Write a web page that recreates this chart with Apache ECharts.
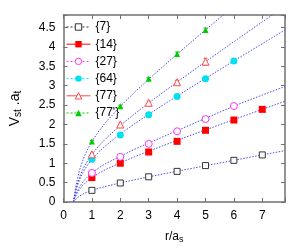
<!DOCTYPE html>
<html><head><meta charset="utf-8">
<script src="https://cdn.jsdelivr.net/npm/echarts@6/dist/echarts.min.js"></script>
<style>html,body{margin:0;padding:0;background:#fff}#c{width:305px;height:249px}</style>
</head><body><div id="c"></div>
<script>
// Measured points (r/a_s, V_st*a_t)
var R = [1, 2, 3, 4, 5, 6, 7];
var V7 = [0.30, 0.49, 0.65, 0.79, 0.94, 1.075, 1.215];
var V14 = [0.63, 1.0, 1.29, 1.565, 1.85, 2.115, 2.39];
var V27 = [0.75, 1.165, 1.5, 1.825, 2.14, 2.475];
var V64 = [1.10, 1.73, 2.25, 2.725, 3.18, 3.64];
var V77 = [1.23, 2.0, 2.56, 3.09, 3.62];
var V77P = [1.56, 2.47, 3.18, 3.82, 4.44];
var E77 = [0.03, 0.03, 0.04, 0.05, 0.09];
var E77P = [0.03, 0.03, 0.03, 0.05, 0.05];
// Fit curves
var CURVE_R = [0.35, 0.4, 0.45, 0.5, 0.55, 0.6, 0.675, 0.75, 0.875, 1, 1.25, 1.5, 2, 2.5, 3, 4, 5, 6, 7, 7.8];
var FIT_7 = [0, 0.047, 0.086, 0.118, 0.146, 0.170, 0.201, 0.228, 0.267, 0.30, 0.357, 0.406, 0.493, 0.573, 0.648, 0.794, 0.936, 1.076, 1.215, 1.326];
var FIT_14 = [0, 0.102, 0.184, 0.252, 0.310, 0.361, 0.426, 0.482, 0.562, 0.63, 0.744, 0.842, 1.012, 1.166, 1.311, 1.59, 1.86, 2.126, 2.39, 2.60];
var FIT_27 = [0, 0.122, 0.220, 0.302, 0.371, 0.432, 0.509, 0.576, 0.670, 0.75, 0.884, 0.998, 1.18, 1.36, 1.52, 1.84, 2.16, 2.475, 2.76, 2.98];
var FIT_64 = [0, 0.179, 0.323, 0.443, 0.544, 0.633, 0.747, 0.845, 0.983, 1.10, 1.297, 1.464, 1.755, 2.016, 2.263, 2.734, 3.19, 3.64, 4.085, 4.44];
var FIT_77 = [0, 0.199, 0.359, 0.493, 0.606, 0.705, 0.833, 0.943, 1.098, 1.23, 1.452, 1.642, 1.974, 2.272, 2.555, 3.095, 3.62, 4.136, 4.648, 5.055];
var FIT_77P = [0, 0.255, 0.461, 0.631, 0.776, 0.901, 1.063, 1.201, 1.396, 1.56, 1.835, 2.067, 2.47, 2.83, 3.168, 3.815, 4.44, 5.055, 5.663, 6.147];
var NAMES = ['{7}', '{14}', '{27}', '{64}', '{77}', "{77'}"];
var X_TICKS = ['0', '1', '2', '3', '4', '5', '6', '7'];
var Y_TICKS = ['0', '0.5', '1', '1.5', '2', '2.5', '3', '3.5', '4', '4.5'];

function pairs(xs, ys) { return ys.map(function (y, i) { return [xs[i], y]; }); }

var FONT = 'Liberation Sans';
var AX = '#707070';
var CURVE_COLOR = '#4a4af0';

var dataSets = [
  { name: NAMES[0], v: V7, symbol: 'rect', size: 6, color: '#333333', fill: '#ffffff', border: 1, dash: true },
  { name: NAMES[1], v: V14, symbol: 'rect', size: 7, color: '#ff0000', fill: '#ff0000', border: 0, dash: false },
  { name: NAMES[2], v: V27, symbol: 'circle', size: 7, color: '#ff33ff', fill: '#ffffff', border: 1, dash: true },
  { name: NAMES[3], v: V64, symbol: 'circle', size: 7, color: '#00e0f0', fill: '#00e0f0', border: 0, dash: true },
  { name: NAMES[4], v: V77, symbol: 'triangle', size: 7, color: '#ff4a4a', fill: '#ffffff', border: 1, dash: false },
  { name: NAMES[5], v: V77P, symbol: 'triangle', size: 6, color: '#00cc00', fill: '#00cc00', border: 0, dash: true }
];
var fits = [FIT_7, FIT_14, FIT_27, FIT_64, FIT_77, FIT_77P];

var series = [];
fits.forEach(function (f) {
  series.push({
    type: 'line', data: pairs(CURVE_R, f), showSymbol: false, symbol: 'none',
    smooth: false, silent: true, z: 1,
    lineStyle: { color: CURVE_COLOR, width: 1, type: [1.5, 1.5] }, xAxisIndex: 0, yAxisIndex: 0
  });
});
function errSeries(vals, errs, color) {
  return {
    type: 'custom', silent: true, z: 2,
    data: vals.map(function (v, i) { return [R[i], v, errs[i]]; }),
    renderItem: function (params, api) {
      var x = api.value(0), y = api.value(1), e = api.value(2);
      var lo = api.coord([x, y - e]), hi = api.coord([x, y + e]);
      var st = { stroke: color, lineWidth: 1 };
      return { type: 'group', children: [
        { type: 'line', shape: { x1: lo[0], y1: lo[1], x2: hi[0], y2: hi[1] }, style: st },
        { type: 'line', shape: { x1: lo[0] - 2, y1: lo[1], x2: lo[0] + 2, y2: lo[1] }, style: st },
        { type: 'line', shape: { x1: hi[0] - 2, y1: hi[1], x2: hi[0] + 2, y2: hi[1] }, style: st }
      ]};
    }
  };
}
series.push(errSeries(V77, E77, '#ff4a4a'));
series.push(errSeries(V77P, E77P, '#00cc00'));
dataSets.forEach(function (d) {
  series.push({
    name: d.name, type: 'line', data: pairs(R, d.v), symbol: d.symbol, symbolSize: d.size,
    showSymbol: true, z: 5,
    lineStyle: { opacity: 0, color: d.color },
    itemStyle: { color: d.fill, borderColor: d.color, borderWidth: d.border, opacity: 1 }
  });
});

var legendData = dataSets.map(function (d) {
  return { name: d.name,
    itemStyle: { color: d.fill, borderColor: d.color, borderWidth: d.border },
    lineStyle: { color: d.color, width: 1, opacity: 1, type: d.dash ? [2, 2] : 'solid' } };
});

var chart = echarts.init(document.getElementById('c'), null, { renderer: 'canvas' });
chart.setOption({
  animation: false,
  backgroundColor: '#ffffff',
  textStyle: { fontFamily: FONT },
  grid: { left: 58, right: 20, top: 15, bottom: 41, containLabel: false },
  legend: {
    orient: 'vertical', left: 66, top: 21, itemWidth: 24, itemHeight: 8, itemGap: 5.2,
    data: legendData, textStyle: { fontFamily: FONT, fontSize: 12, color: '#000' },
    padding: 0
  },
  xAxis: [{
    type: 'value', min: 0, max: 7.8, interval: 1, position: 'bottom',
    name: 'r/a{s|s}', nameLocation: 'middle', nameGap: 27,
    nameTextStyle: { fontFamily: FONT, fontSize: 12, color: '#000',
      rich: { s: { fontSize: 9, verticalAlign: 'bottom', padding: [6, 0, 0, 0], fontFamily: FONT } } },
    axisLine: { show: true, onZero: false, lineStyle: { color: AX, width: 1.5 } },
    axisTick: { show: true, inside: true, length: 4, lineStyle: { color: AX } },
    axisLabel: { margin: 8, fontSize: 12, color: '#000', fontFamily: FONT,
      formatter: function (v) { var i = X_TICKS.indexOf(String(v)); return i >= 0 ? X_TICKS[i] : ''; } },
    splitLine: { show: false }
  }, {
    type: 'value', min: 0, max: 7.8, interval: 1, position: 'top',
    axisLine: { show: true, onZero: false, lineStyle: { color: AX, width: 1.5 } },
    axisTick: { show: true, inside: true, length: 4, lineStyle: { color: AX } },
    axisLabel: { show: false }, splitLine: { show: false }
  }],
  yAxis: [{
    type: 'value', min: 0, max: 4.825, interval: 0.5, position: 'left',
    name: 'V{s|st} .a{s|t}', nameLocation: 'middle', nameGap: 40, nameRotate: 90,
    nameTextStyle: { fontFamily: FONT, fontSize: 14, color: '#000',
      rich: { s: { fontSize: 10, verticalAlign: 'bottom', padding: [7, 0, 0, 0], fontFamily: FONT } } },
    axisLine: { show: true, onZero: false, lineStyle: { color: AX, width: 1.5 } },
    axisTick: { show: true, inside: true, length: 4, lineStyle: { color: AX } },
    axisLabel: { margin: 8, fontSize: 12, color: '#000', fontFamily: FONT,
      formatter: function (v) { var s = String(Math.round(v * 10) / 10); return Y_TICKS.indexOf(s) >= 0 ? s : ''; } },
    splitLine: { show: false }
  }, {
    type: 'value', min: 0, max: 4.825, interval: 0.5, position: 'right',
    axisLine: { show: true, onZero: false, lineStyle: { color: AX, width: 1.5 } },
    axisTick: { show: true, inside: true, length: 4, lineStyle: { color: AX } },
    axisLabel: { show: false }, splitLine: { show: false }
  }],
  series: series
});
</script></body></html>
